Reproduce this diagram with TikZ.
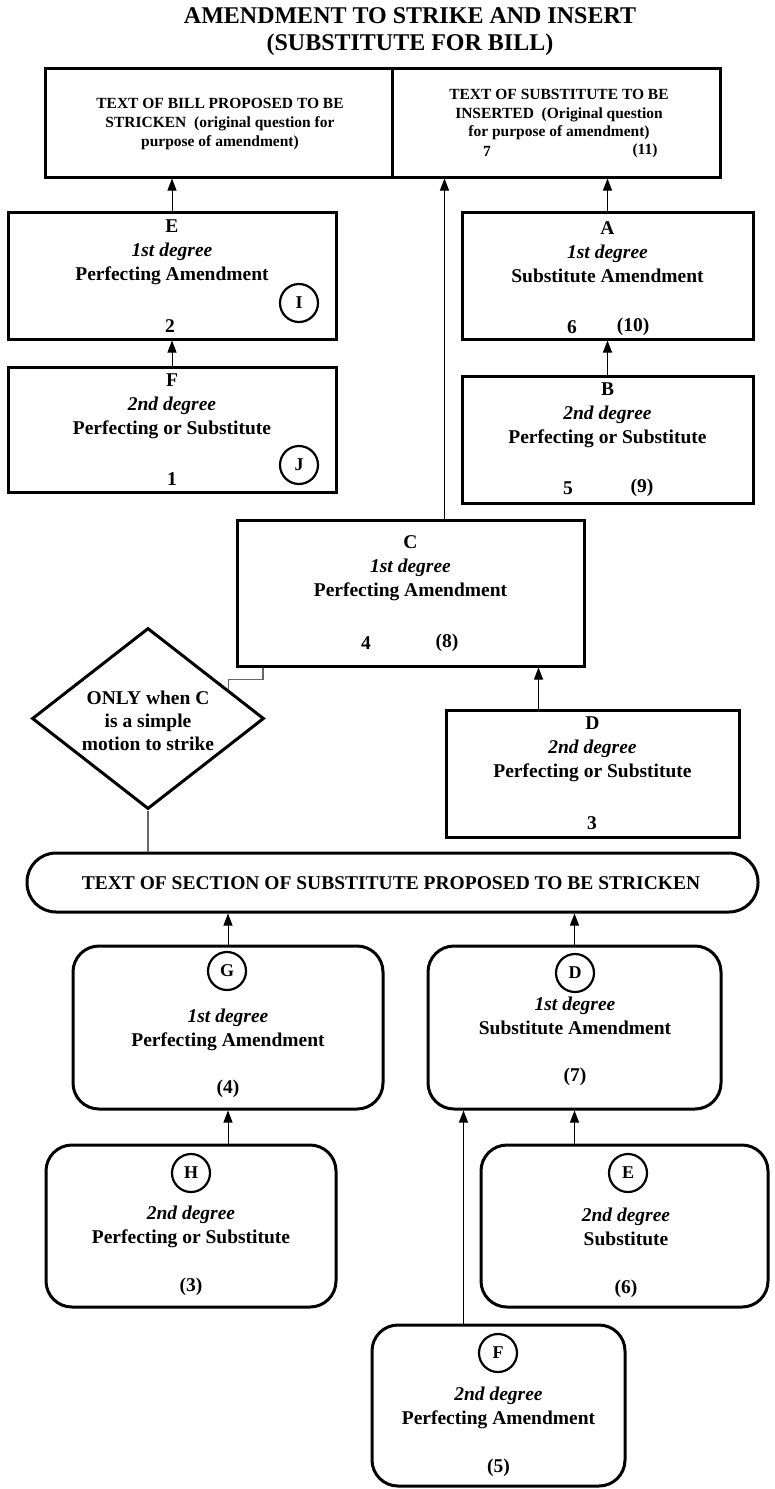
\documentclass[tikz,border=0pt]{standalone}
\usepackage{fontspec}
\setmainfont{Liberation Serif}
\usetikzlibrary{arrows.meta,shapes.geometric,positioning}
\newcommand{\fsz}[2]{\fontsize{#1pt}{#2pt}\selectfont}

\begin{document}
\begin{tikzpicture}[x=1pt,y=-1pt,
  sqbox/.style={draw,line width=3pt,inner sep=0pt},
  rndbox/.style={draw,line width=3pt,inner sep=0pt,rounded corners=26pt},
  txt/.style={font=\fsz{19.5}{24}\bfseries,align=center,inner sep=0pt},
  toptxt/.style={font=\fsz{15.5}{19}\bfseries,align=center,inner sep=0pt},
  ring/.style={draw,circle,line width=2.2pt,minimum size=38pt,inner sep=0pt,font=\fsz{18}{20}\bfseries},
  arr/.style={line width=1pt,-{Triangle[length=12pt,width=9pt]}},
  wire/.style={line width=1.2pt,black!60}]
\useasboundingbox (0,0) rectangle (775,1489);

% title
\node[font=\fsz{24}{27}\bfseries,align=center,inner sep=0pt] (title) at (410,32)
  {AMENDMENT TO STRIKE AND INSERT\\(SUBSTITUTE FOR BILL)};

% bill and substitute
\node[sqbox,minimum width=347pt,minimum height=109pt] (bill) at (218.5,122.5) {};
\node[sqbox,minimum width=328pt,minimum height=109pt] (ins) at (556,122.5) {};
\node[toptxt] (billtxt) at (220,124) {TEXT OF BILL PROPOSED TO BE\\STRICKEN~~(original question for\\purpose of amendment)};
\node[toptxt,font=\fsz{15.5}{18.5}\bfseries] (instxt) at (559,115) {TEXT OF SUBSTITUTE TO BE\\INSERTED~~(Original question\\for purpose of amendment)};
\node[toptxt] (insa) at (487,151) {7};
\node[toptxt] (insb) at (645,151) {(11)};

% left column
\node[sqbox,minimum width=328pt,minimum height=127pt] (e1) at (172,275.5) {};
\node[txt] (e1txt) at (172,252) {E\\\textit{1st degree}\\Perfecting Amendment};
\node[ring] (ri) at (299,303) {I};
\node[txt] (e1n) at (170,326) {2};

\node[sqbox,minimum width=328pt,minimum height=125pt] (f1) at (172,429.5) {};
\node[txt] (f1txt) at (172,406) {F\\\textit{2nd degree}\\Perfecting or Substitute};
\node[ring] (rj) at (299,465) {J};
\node[txt] (f1n) at (172,479) {1};

% right column
\node[sqbox,minimum width=291pt,minimum height=127pt] (a1) at (607.5,275.5) {};
\node[txt] (a1txt) at (607.5,252) {A\\\textit{1st degree}\\Substitute Amendment};
\node[txt] (a1n) at (572,327) {6};
\node[txt] (a1m) at (633,327) {(10)};

\node[sqbox,minimum width=291pt,minimum height=127pt] (b1) at (607.5,439.5) {};
\node[txt] (b1txt) at (607.5,415) {B\\\textit{2nd degree}\\Perfecting or Substitute};
\node[txt] (b1n) at (568,488) {5};
\node[txt] (b1m) at (642,488) {(9)};

% middle
\node[sqbox,minimum width=347pt,minimum height=146pt] (c1) at (410.5,593) {};
\node[txt] (c1txt) at (410.5,568) {C\\\textit{1st degree}\\Perfecting Amendment};
\node[txt] (c1n) at (366,643) {4};
\node[txt] (c1m) at (447,643) {(8)};

\node[sqbox,minimum width=293pt,minimum height=127pt] (d1) at (592.5,773.5) {};
\node[txt] (d1txt) at (592.5,749) {D\\\textit{2nd degree}\\Perfecting or Substitute};
\node[txt] (d1n) at (592,823) {3};

\node[draw,diamond,line width=3pt,inner sep=0pt,minimum width=232pt,minimum height=181pt] (dia) at (148,718.5) {};
\node[txt,font=\fsz{19.5}{23}\bfseries] (diatxt) at (148,721) {ONLY when C\\is a simple\\motion to strike};

% section of substitute
\node[rndbox,rounded corners=29pt,minimum width=731pt,minimum height=59pt] (pill) at (392.5,882.5) {};
\node[txt] (pilltxt) at (391,883) {TEXT OF SECTION OF SUBSTITUTE PROPOSED TO BE STRICKEN};

\node[rndbox,minimum width=310pt,minimum height=163pt] (g2) at (228,1027.5) {};
\node[ring] (rg) at (227,971) {G};
\node[txt] (g2txt) at (228,1030) {\textit{1st degree}\\Perfecting Amendment};
\node[txt] (g2n) at (228,1089) {(4)};

\node[rndbox,minimum width=293pt,minimum height=163pt] (d2) at (574.5,1027.5) {};
\node[ring] (rd) at (575,973) {D};
\node[txt] (d2txt) at (575,1016) {\textit{1st degree}\\Substitute Amendment};
\node[txt] (d2n) at (575,1077) {(7)};

\node[rndbox,minimum width=290pt,minimum height=162pt] (h2) at (191,1226) {};
\node[ring] (rh) at (191,1173) {H};
\node[txt] (h2txt) at (191,1227) {\textit{2nd degree}\\Perfecting or Substitute};
\node[txt] (h2n) at (191,1287) {(3)};

\node[rndbox,minimum width=287pt,minimum height=162pt] (e2) at (624.5,1226) {};
\node[ring] (re) at (628,1173) {E};
\node[txt] (e2txt) at (626,1227) {\textit{2nd degree}\\Substitute};
\node[txt] (e2n) at (626,1289) {(6)};

\node[rndbox,minimum width=253pt,minimum height=161pt] (f2) at (498.5,1405.5) {};
\node[ring] (rf) at (498,1353) {F};
\node[txt] (f2txt) at (498.5,1408) {\textit{2nd degree}\\Perfecting Amendment};
\node[txt] (f2n) at (498.5,1468) {(5)};

% connectors
\draw[arr] (e1.north) -- (e1.north |- bill.south);
\draw[arr] (f1.north) -- (e1.south);
\draw[arr] (a1.north) -- (a1.north |- ins.south);
\draw[arr] (b1.north) -- (a1.south);
\draw[arr] ([xshift=34]c1.north) -- ([xshift=34]c1.north |- ins.south);
\draw[arr] ([xshift=-54]d1.north) -- ([xshift=-54]d1.north |- c1.south);
\draw[wire] ([xshift=-147.5]c1.south) -- ++(0,12) -| (dia.20);
\draw[wire] (dia.south) -- (dia.south |- pill.north);
\draw[arr] (g2.north) -- (g2.north |- pill.south);
\draw[arr] (d2.north) -- (d2.north |- pill.south);
\draw[arr] (g2.south |- h2.north) -- (g2.south);
\draw[arr] (d2.south |- e2.north) -- (d2.south);
\draw[arr] ([xshift=-35]f2.north) -- ([xshift=-35]f2.north |- d2.south);
\end{tikzpicture}
\end{document}
